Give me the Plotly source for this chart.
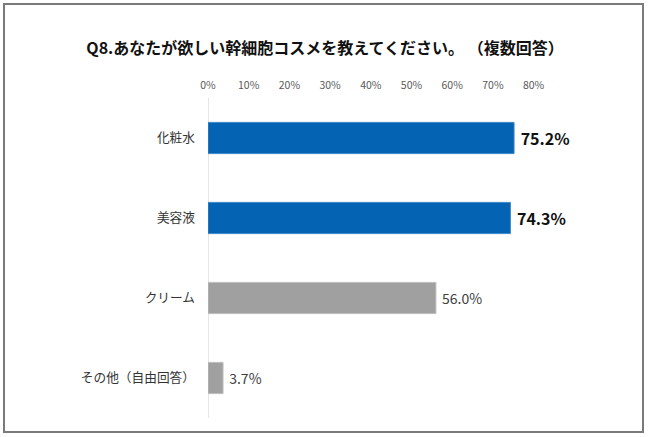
import plotly.graph_objects as go

categories = ["化粧水", "美容液", "クリーム", "その他（自由回答）"]
values = [75.2, 74.3, 56.0, 3.7]
tick_values = [0, 10, 20, 30, 40, 50, 60, 70, 80]
tick_labels = [f"{v}%" for v in tick_values]
title_text = "Q8.あなたが欲しい幹細胞コスメを教えてください。 （複数回答）"

highlighted = {"化粧水", "美容液"}
FONT = "Noto Sans CJK JP, Meiryo, sans-serif"

bar_colors = ["#0563B3" if c in highlighted else "#A0A0A0" for c in categories]
line_colors = ["#3F86C8" if c in highlighted else "#BDBDBD" for c in categories]
texts = [("\u00a0<b>%.1f%%</b>" % v) if c in highlighted else ("\u00a0%.1f%%" % v)
         for c, v in zip(categories, values)]
text_sizes = [16 if c in highlighted else 14 for c in categories]
text_colors = ["#111111" if c in highlighted else "#404040" for c in categories]

fig = go.Figure(
    go.Bar(
        x=values,
        y=categories,
        orientation="h",
        width=0.39,
        marker=dict(color=bar_colors, line=dict(color=line_colors, width=1)),
        text=texts,
        textposition="outside",
        textfont=dict(family=FONT, size=text_sizes, color=text_colors),
        cliponaxis=False,
        hoverinfo="skip",
    )
)

W, H = 650, 437
L, R, T, B = 208, 35, 98, 19
pw, ph = W - L - R, H - T - B

def px_x(x):
    return (x - L) / pw

def px_y(y):
    return (H - B - y) / ph

fig.update_layout(
    width=W,
    height=H,
    margin=dict(l=L, r=R, t=T, b=B, pad=0),
    paper_bgcolor="white",
    plot_bgcolor="white",
    showlegend=False,
    font=dict(family=FONT, color="#333333"),
    title=dict(
        text=f"<b>{title_text}</b>",
        x=0.5,
        xanchor="center",
        y=1 - 48 / H,
        yanchor="middle",
        font=dict(family=FONT, size=16, color="#111111"),
    ),
    xaxis=dict(
        side="top",
        range=[0, 100],
        tickvals=tick_values,
        ticktext=tick_labels,
        tickfont=dict(family=FONT, size=10.5, color="#595959"),
        showgrid=False,
        zeroline=True,
        zerolinecolor="#E6E6E6",
        zerolinewidth=1,
        showline=False,
        ticks="",
        ticklabelstandoff=6,
        fixedrange=True,
    ),
    yaxis=dict(
        autorange="reversed",
        tickfont=dict(family=FONT, size=12.7, color="#333333"),
        showgrid=False,
        showline=False,
        ticks="",
        ticklabelstandoff=12,
        fixedrange=True,
    ),
    shapes=[
        dict(
            type="rect",
            xref="paper",
            yref="paper",
            x0=px_x(4),
            x1=px_x(643),
            y0=px_y(432),
            y1=px_y(4),
            line=dict(color="#7A7A7A", width=2),
            layer="above",
        )
    ],
)

fig.write_html(
    "out.html",
    config={"displayModeBar": False},
    post_script="document.body.style.margin='0';document.body.style.overflow='hidden';",
)
